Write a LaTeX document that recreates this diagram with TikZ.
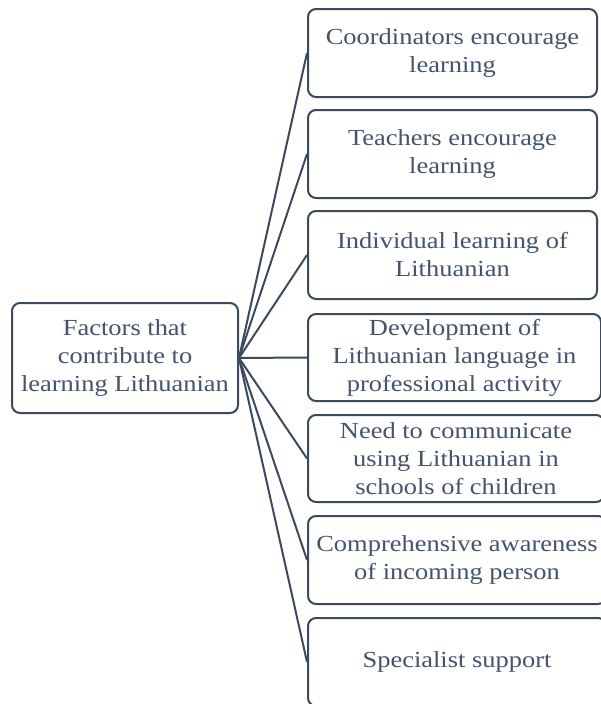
\documentclass[tikz,border=0pt]{standalone}
\usepackage{fontspec}
\setmainfont{Liberation Serif}[FakeStretch=1.15]
\definecolor{linec}{HTML}{3B4A5C}
\definecolor{textc}{HTML}{44546A}
\begin{document}
\begin{tikzpicture}[x=1pt,y=-1pt,
  box/.style={draw=linec, line width=2pt, rounded corners=8pt, fill=white,
    text=textc, align=center, inner sep=0pt,
    font=\fontsize{23}{28}\selectfont},
  conn/.style={draw=linec, line width=2pt}]
\clip (0,0) rectangle (601,704);
\node[box, minimum width=226pt, minimum height=110pt] (L) at (125,358)
  {Factors that\\contribute to\\learning Lithuanian};
\node[box, minimum width=289pt, minimum height=88pt] (b1) at (452.5,53)
  {Coordinators encourage\\learning};
\node[box, minimum width=289pt, minimum height=88pt] (b2) at (452.5,154)
  {Teachers encourage\\learning};
\node[box, minimum width=289pt, minimum height=88pt] (b3) at (452.5,255)
  {Individual learning of\\Lithuanian};
\node[box, minimum width=293pt, minimum height=87pt] (b4) at (454.5,357.5)
  {Development of\\Lithuanian language in\\professional activity};
\node[box, minimum width=296pt, minimum height=87pt] (b5) at (456,458.5)
  {Need to communicate\\using Lithuanian in\\schools of children};
\node[box, minimum width=298pt, minimum height=88pt] (b6) at (457,560)
  {Comprehensive awareness\\of incoming person};
\node[box, minimum width=298pt, minimum height=88pt] (b7) at (457,662)
  {Specialist support};
\foreach \i in {1,...,7} {\draw[conn] (L.east) -- (b\i.west);}
\end{tikzpicture}
\end{document}
